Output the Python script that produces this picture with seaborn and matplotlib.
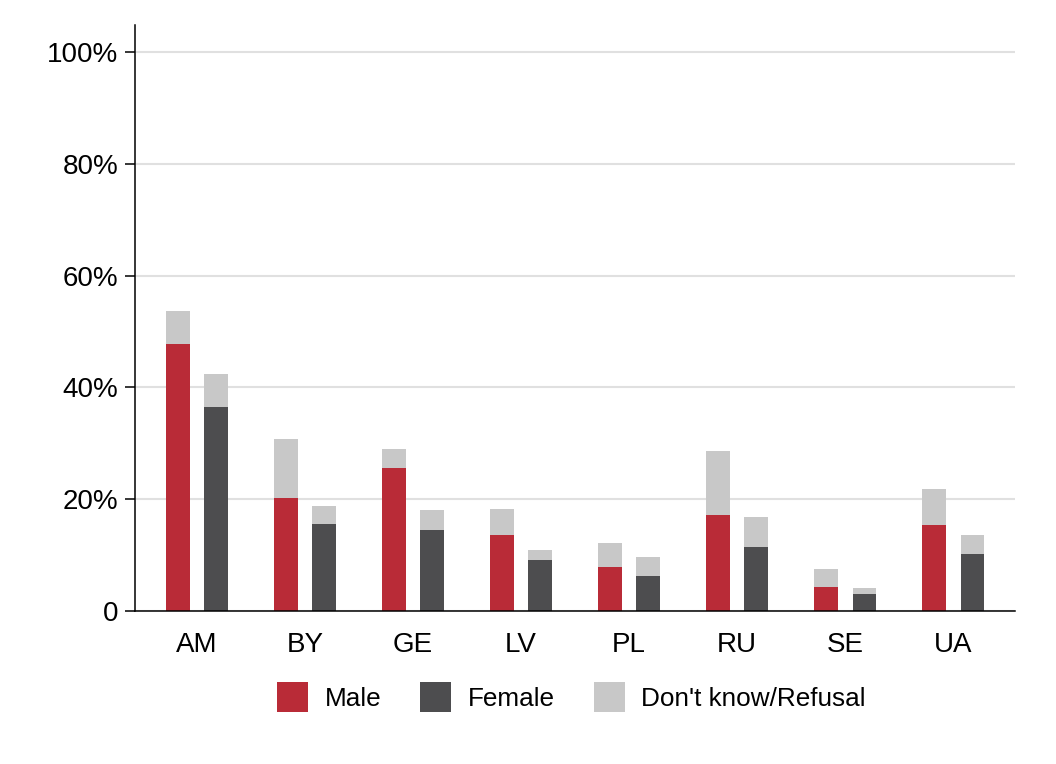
import matplotlib
matplotlib.use("Agg")
import matplotlib.pyplot as plt
from matplotlib.patches import Patch
import seaborn as sns
import pandas as pd

countries = ['AM', 'BY', 'GE', 'LV', 'PL', 'RU', 'SE', 'UA']
# share answering with the gender (bottom part of each bar)
male = [47.8, 20.2, 25.5, 13.6, 7.9, 17.1, 4.3, 15.4]
female = [36.5, 15.6, 14.5, 9.2, 6.3, 11.4, 3.1, 10.2]
# bar top incl. "Don't know/Refusal"
male_total = [53.7, 30.8, 29.0, 18.2, 12.2, 28.6, 7.6, 21.9]
female_total = [42.4, 18.8, 18.0, 10.9, 9.7, 16.8, 4.1, 13.6]

legend_labels = ['Male', 'Female', "Don't know/Refusal"]

red = '#B92B37'
dark = '#4D4D4F'
light = '#C8C8C8'

df = pd.DataFrame({
    'country': countries * 2,
    'sex': ['Male'] * len(countries) + ['Female'] * len(countries),
    'value': male + female,
    'total': male_total + female_total,
})

sns.set_style('white')
plt.rcParams['font.family'] = ['Liberation Sans', 'DejaVu Sans']
plt.rcParams['text.color'] = 'black'
plt.rcParams['xtick.color'] = 'black'
plt.rcParams['ytick.color'] = 'black'

fig = plt.figure(figsize=(10.56, 7.64), dpi=100)
ax = fig.add_axes([135 / 1056, 1 - 611 / 764, 880 / 1056, 586 / 764])

ax.yaxis.grid(True, color='#E0E0E0', linewidth=1.5)
ax.set_axisbelow(True)

sns.barplot(data=df, x='country', y='total', hue='sex', order=countries,
            hue_order=['Male', 'Female'], palette=[light, light],
            width=0.708, gap=0.384, saturation=1, errorbar=None,
            linewidth=0, legend=False, ax=ax)
sns.barplot(data=df, x='country', y='value', hue='sex', order=countries,
            hue_order=['Male', 'Female'], palette=[red, dark],
            width=0.708, gap=0.384, saturation=1, errorbar=None,
            linewidth=0, legend=False, ax=ax)

ax.set_xlim(-0.573, 7.572)
ax.set_ylim(0, 104.8)
ax.set_yticks([0, 20, 40, 60, 80, 100])
ax.set_yticklabels(['0', '20%', '40%', '60%', '80%', '100%'])
ax.set_xlabel('')
ax.set_ylabel('')

ax.tick_params(axis='y', labelsize=20, length=7.2, width=1.1, pad=5,
               color='black', labelcolor='black', left=True)
ax.tick_params(axis='x', labelsize=20, length=0, pad=15, labelcolor='black')

for side in ['top', 'right']:
    ax.spines[side].set_visible(False)
for side in ['left', 'bottom']:
    ax.spines[side].set_color('black')
    ax.spines[side].set_linewidth(1.1)

handles = [Patch(facecolor=c, edgecolor='none') for c in [red, dark, light]]
leg = ax.legend(handles, legend_labels, loc='center', bbox_to_anchor=(0.496, -0.147),
                ncol=3, frameon=False, fontsize=18.8, handlelength=1.18,
                handleheight=1.4, handletextpad=0.63, columnspacing=1.5)
for t in leg.get_texts():
    t.set_color('black')

fig.savefig('out.png', dpi=100)
